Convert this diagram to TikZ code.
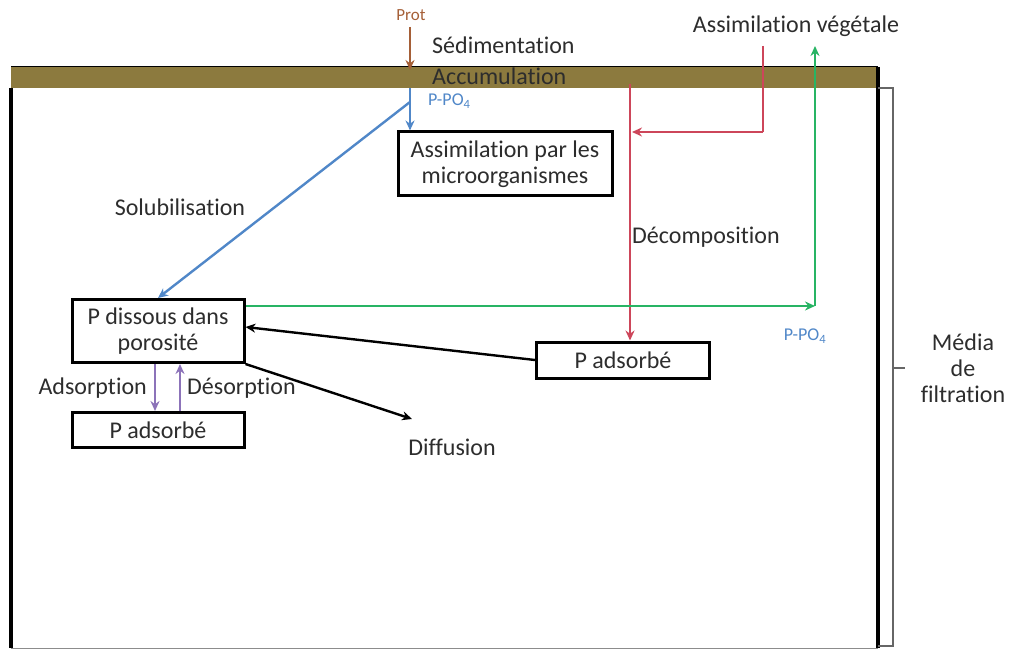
\documentclass[tikz,border=0pt]{standalone}
\usepackage{fontspec}
\setmainfont{Carlito}[Ligatures=NoCommon]
\usetikzlibrary{arrows.meta}
\definecolor{band}{RGB}{140,122,62}
\definecolor{protc}{RGB}{165,95,55}
\definecolor{bluec}{RGB}{80,135,200}
\definecolor{redc}{RGB}{205,70,90}
\definecolor{greenc}{RGB}{40,180,100}
\definecolor{purplec}{RGB}{140,115,185}
\definecolor{txt}{RGB}{45,45,45}
\begin{document}
\begin{tikzpicture}[x=1pt,y=-1pt,
  lbl/.style={inner sep=0pt,text=txt,font=\fontsize{24}{26}\selectfont},
  small/.style={inner sep=0pt,font=\fontsize{18}{20}\selectfont},
  boxn/.style={draw=black,line width=3pt,fill=white,inner sep=0pt,align=center,text=txt,font=\fontsize{24}{26}\selectfont},
  arr/.style={line width=2.4pt,-{Stealth[length=10pt,width=9pt]}},
  ln/.style={line width=2.4pt}]
\useasboundingbox (0,0) rectangle (1018,650);
% frame
\fill[band] (11,67) rectangle (878,88);
\draw[line width=1pt] (11,67) -- (878,67);
\draw[line width=3.2pt] (11,88) -- (11,648);
\draw[line width=3.2pt] (878,67) -- (878,648);
\draw[line width=1pt,black!45] (11,648) -- (878,648);
% bracket
\draw[line width=1.3pt,black!60] (878,88) -- (893,88) -- (893,646) -- (878,646);
\coordinate (brk) at (893,368);
% texts
\node[small,text=protc,font=\fontsize{17}{18}\selectfont] (prot) at (411,15) {Prot};
\node[lbl,anchor=west] (sed) at (432,45) {Sédimentation};
\node[lbl,anchor=west] (acc) at (432,76) {Accumulation};
\node[small,text=bluec,anchor=west] (ppo1) at (428,101) {P-PO\textsubscript{4}};
\node[lbl] (asv) at (796,26) {Assimilation végétale};
\node[lbl,anchor=west] (dec) at (632,237) {Décomposition};
\node[lbl] (sol) at (180,207) {Solubilisation};
\node[small,text=bluec] (ppo2) at (805,336) {P-PO\textsubscript{4}};
\node[lbl] (diff) at (452,447) {Diffusion};
\node[lbl,anchor=east] (ads) at (147,388) {Adsorption};
\node[lbl,anchor=west] (des) at (187,388) {Désorption};
\node[lbl,align=center] (media) at (963,368) {Média\\de\\filtration};
% boxes
\node[boxn,minimum width=214pt,minimum height=64pt] (assim) at (505,164) {Assimilation par les\\microorganismes};
\node[boxn,minimum width=172pt,minimum height=63pt] (pdis) at (158,331) {P dissous dans\\porosité};
\node[boxn,minimum width=172pt,minimum height=35pt] (pads1) at (158,430) {P adsorbé};
\node[boxn,minimum width=173pt,minimum height=36pt] (pads2) at (623,360) {P adsorbé};
% coordinates
\coordinate (pt) at (410,27);
\coordinate (pband) at (410,70);
\coordinate (b0) at (410,88);
\coordinate (b1) at (410,102);
\coordinate (rtop) at (763,46);
\coordinate (rc) at (763,132);
\coordinate (r0) at (630,84);
\coordinate (rh) at (632,132);
\coordinate (g0) at (246,306);
\coordinate (gc) at (815,306);
\coordinate (gtop) at (815,46);
% connectors
\draw[arr,protc] (pt) -- (pband);
\draw[arr,bluec] (b0) -- (b0 |- assim.north);
\draw[arr,bluec] (b1) -- (pdis.north);
\draw[ln,redc] (rtop) -- (rc);
\draw[arr,redc] (rc) -- (rh);
\draw[arr,redc] (r0) -- (r0 |- pads2.north);
\draw[arr,greenc] (g0) -- (gc);
\draw[arr,greenc] (gc) -- (gtop);
\draw[arr,purplec] ([xshift=-3pt]pdis.south) -- ([xshift=-3pt]pads1.north);
\draw[arr,purplec] ([xshift=22pt]pads1.north) -- ([xshift=22pt]pdis.south);
\draw[arr,black] (pads2.west) -- ([yshift=4pt]pdis.east);
\draw[arr,black] (pdis.south east) -- (412,419) coordinate (dtip);
\draw[line width=1.3pt,black!60] (brk) -- ++(12,0);
\end{tikzpicture}
\end{document}
